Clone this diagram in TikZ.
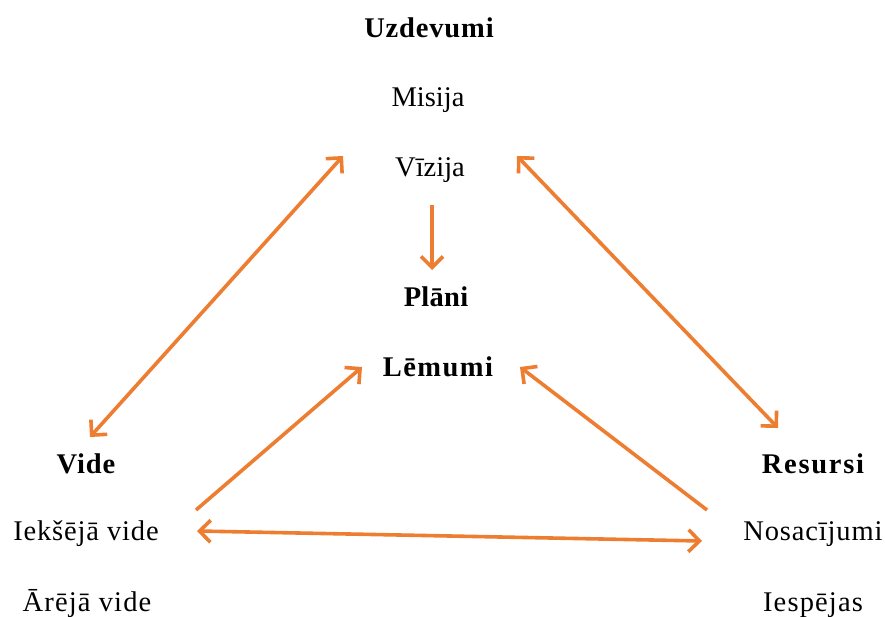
\documentclass[tikz,border=0pt]{standalone}
\usepackage{fontspec}
\setmainfont{Liberation Serif}
\usetikzlibrary{arrows.meta}
\definecolor{arrowc}{HTML}{ED7D31}
\begin{document}
\begin{tikzpicture}[x=1pt,y=-1pt,
  lbl/.style={inner sep=0pt,anchor=base,font=\fontsize{28.5}{34}\selectfont},
  head/.style={lbl,font=\fontsize{28.5}{34}\selectfont\bfseries},
  ls/.style={execute at begin node={\addfontfeature{LetterSpace=#1}}},
  barb/.tip={Straight Barb[length=11pt,width=22pt,line width=3.6pt]},
  link/.style={draw=arrowc,line width=3.6pt,-barb},
  blink/.style={link,barb-barb}]
\useasboundingbox (0,0) rectangle (885,617);

% goals
\node[head,ls=3] (uzd) at (429,38)  {Uzdevumi};
\node[lbl]       (mis) at (428,107) {Misija};
\node[lbl]       (viz) at (430,177) {Vīzija};
% plans and decisions
\node[head,ls=1] (pla) at (436,306) {Plāni};
\node[head,ls=5] (lem) at (438,376) {Lēmumi};
% environment
\node[head,ls=3] (vid) at (86,473)  {Vide};
\node[lbl,ls=3]  (iek) at (86,540)  {Iekšējā vide};
\node[lbl,ls=4]  (are) at (87,611)  {Ārējā vide};
% resources
\node[head,ls=6] (res) at (813,473) {Resursi};
\node[lbl,ls=3]  (nos) at (813,540) {Nosacījumi};
\node[lbl,ls=4]  (ies) at (813,611) {Iespējas};

% connector ends
\coordinate (vizL) at (343,156);
\coordinate (vizR) at (517,156);
\coordinate (vizB) at (432,205);
\coordinate (plaT) at (432,270);
\coordinate (vidT) at (90,437);
\coordinate (resT) at (778,428);
\coordinate (lemL) at (362,367);
\coordinate (lemR) at (520,367);
\coordinate (iekR) at (196,510);
\coordinate (iekA) at (197,531);
\coordinate (nosL) at (707,510);
\coordinate (nosA) at (702,541);

\draw[blink] (vidT) -- (vizL);
\draw[blink] (vizR) -- (resT);
\draw[link] (vizB) -- (plaT);
\draw[link] (iekR) -- (lemL);
\draw[link] (nosL) -- (lemR);
\draw[blink] (iekA) -- (nosA);
\end{tikzpicture}
\end{document}
